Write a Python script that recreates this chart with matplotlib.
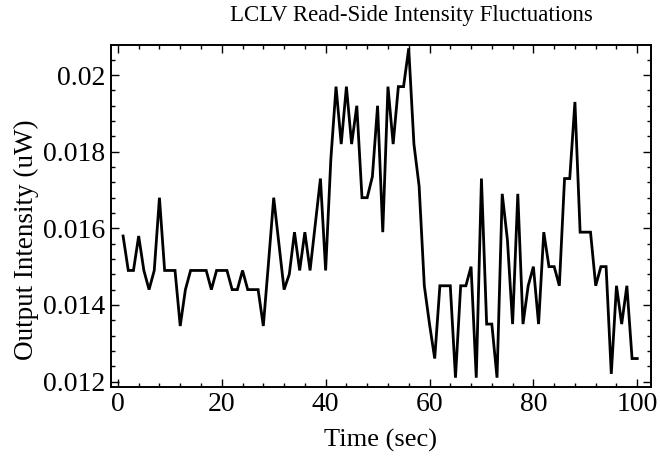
import matplotlib
matplotlib.use("Agg")
import matplotlib.pyplot as plt
from matplotlib.ticker import MultipleLocator

# time in seconds, one sample per second
time_sec = list(range(1, 101))

# read-side output intensity (uW)
intensity = [
    0.0158, 0.0149, 0.0149, 0.0158, 0.0149, 0.0144, 0.0149, 0.0168, 0.0149, 0.0149,
    0.0149, 0.01345, 0.0144, 0.0149, 0.0149, 0.0149, 0.0149, 0.0144, 0.0149, 0.0149,
    0.0149, 0.0144, 0.0144, 0.0149, 0.0144, 0.0144, 0.0144, 0.01345, 0.0151, 0.0168,
    0.0156, 0.0144, 0.0148, 0.0159, 0.0149, 0.0159, 0.0149, 0.0161, 0.0173, 0.0149,
    0.0178, 0.0197, 0.0182, 0.0197, 0.0182, 0.0192, 0.0168, 0.0168, 0.01735, 0.0192,
    0.0159, 0.0197, 0.0182, 0.0197, 0.0197, 0.0207, 0.0182, 0.0171, 0.0145, 0.0135,
    0.0126, 0.0145, 0.0145, 0.0145, 0.0121, 0.0145, 0.0145, 0.0150, 0.0121, 0.0173,
    0.0135, 0.0135, 0.0121, 0.0169, 0.0157, 0.0135, 0.0169, 0.0135, 0.0145, 0.0150,
    0.0135, 0.0159, 0.0150, 0.0150, 0.0145, 0.0173, 0.0173, 0.0193, 0.0159, 0.0159,
    0.0159, 0.0145, 0.0150, 0.0150, 0.0122, 0.0145, 0.0135, 0.0145, 0.0126, 0.0126,
]

x_ticks = [0, 20, 40, 60, 80, 100]
y_ticks = [0.012, 0.014, 0.016, 0.018, 0.02]
y_tick_labels = ["0.012", "0.014", "0.016", "0.018", "0.02"]

plt.rcParams["font.family"] = ["Liberation Serif", "DejaVu Serif"]

fig = plt.figure(figsize=(6.6, 4.7), dpi=100)
ax = fig.add_axes([0.168, 0.177, 0.818, 0.728])

ax.plot(time_sec, intensity, color="black", linewidth=2.0, solid_joinstyle="miter")

ax.set_xlim(-1.35, 102.6)
ax.set_ylim(0.011862, 0.020796)

ax.set_xticks(x_ticks)
ax.set_yticks(y_ticks)
ax.set_yticklabels(y_tick_labels)
ax.xaxis.set_minor_locator(MultipleLocator(4))
ax.yaxis.set_minor_locator(MultipleLocator(0.0004))

ax.tick_params(which="both", direction="in", top=True, right=True,
               labeltop=False, labelright=False, width=1.0, colors="black")
ax.tick_params(which="major", length=6, labelsize=20, pad=4)
ax.tick_params(which="minor", length=3)

for spine in ax.spines.values():
    spine.set_linewidth(1.4)

ax.set_title("LCLV Read-Side Intensity Fluctuations", fontsize=16.5, pad=17, x=0.556)
ax.set_xlabel("Time (sec)", fontsize=19, labelpad=8)
ax.set_ylabel("Output Intensity (uW)", fontsize=19.5)
ax.yaxis.set_label_coords(-0.133, 0.43)

fig.savefig("out.png", dpi=100)
